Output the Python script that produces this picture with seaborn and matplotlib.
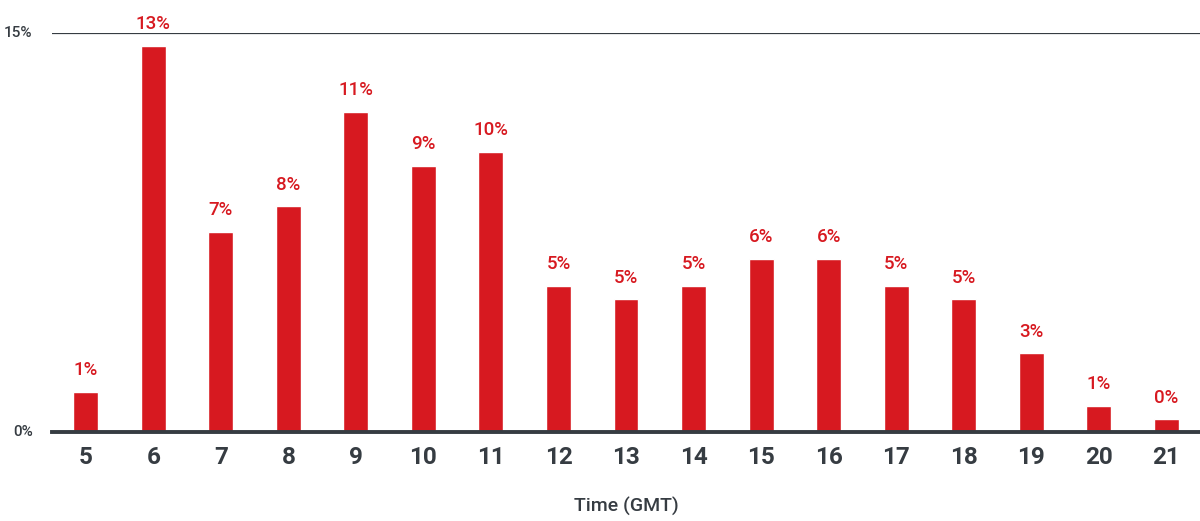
import matplotlib
matplotlib.use("Agg")
import matplotlib.pyplot as plt
import seaborn as sns
import pandas as pd

# Share of activity by hour of day (GMT)
hours = [5, 6, 7, 8, 9, 10, 11, 12, 13, 14, 15, 16, 17, 18, 19, 20, 21]
share = [1.4, 13.45, 6.97, 7.87, 11.15, 9.27, 9.76, 5.09, 4.63, 5.09,
         6.03, 6.03, 5.09, 4.63, 2.75, 0.91, 0.45]
y_top = 13.9
ytick_pos = [0, y_top]
ytick_labels = ["0%", "15%"]

RED = "#d71920"
DARK = "#363c42"

sns.set_theme(style="white")
plt.rcParams["font.family"] = ["Roboto", "DejaVu Sans"]

df = pd.DataFrame({"hour": [str(h) for h in hours], "share": share})

fig = plt.figure(figsize=(12, 5.21), dpi=100)
ax = fig.add_axes([52 / 1200, 89 / 521, 1148 / 1200, 399 / 521])

sns.barplot(data=df, x="hour", y="share", color=RED, width=0.37,
            saturation=1, ax=ax)

for i, v in enumerate(share):
    ax.annotate(f"{v:.0f}%", (i, v), xytext=(0, 9), textcoords="offset points",
                ha="center", va="bottom", color=RED, fontsize=13.5,
                fontweight="medium")

ax.set_xlim(-0.5, len(hours) - 0.5)
ax.set_ylim(0, y_top)
ax.set_yticks(ytick_pos)
ax.set_yticklabels(ytick_labels)
ax.axhline(y_top, color=DARK, lw=1.6, zorder=0)

for s in ["top", "right", "left"]:
    ax.spines[s].set_visible(False)
ax.spines["bottom"].set_color(DARK)
ax.spines["bottom"].set_linewidth(2.8)

ax.tick_params(axis="x", length=0, pad=10, labelsize=17.5, labelcolor=DARK)
ax.tick_params(axis="y", length=0, pad=14, labelsize=11, labelcolor=DARK)
for t in ax.get_xticklabels():
    t.set_fontweight("bold")
for t in ax.get_yticklabels():
    t.set_verticalalignment("center")
    t.set_fontweight("medium")

ax.set_xlabel("Time (GMT)", fontsize=14, color=DARK, labelpad=20,
              fontweight="medium")
ax.set_ylabel("")

fig.savefig("out.png", dpi=100)
